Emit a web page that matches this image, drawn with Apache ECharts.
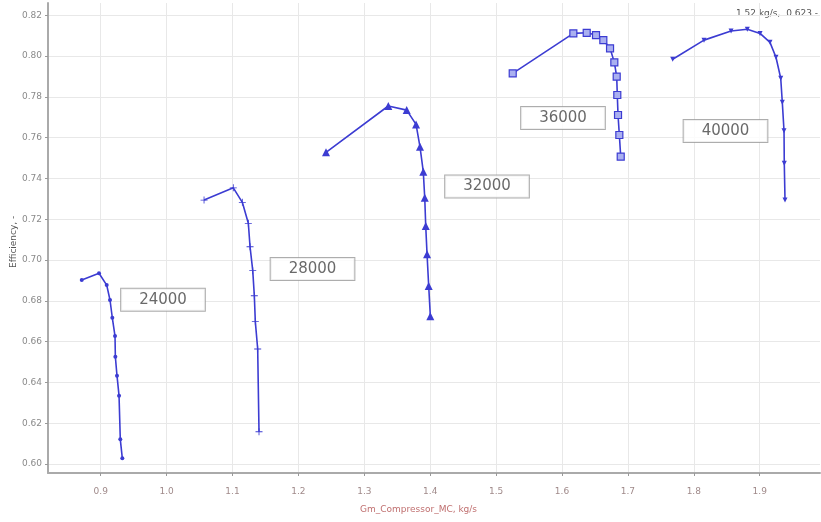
<!DOCTYPE html>
<html>
<head>
<meta charset="utf-8">
<script src="https://cdn.jsdelivr.net/npm/echarts@6/dist/echarts.min.js"></script>
<style>html,body{margin:0;padding:0;background:#fff;}#c{width:821px;height:522px;}</style>
</head>
<body>
<div id="c"></div>
<script>
// ---- data ----
const xTicks = [0.9, 1.0, 1.1, 1.2, 1.3, 1.4, 1.5, 1.6, 1.7, 1.8, 1.9];
const yTicks = [0.60, 0.62, 0.64, 0.66, 0.68, 0.70, 0.72, 0.74, 0.76, 0.78, 0.80, 0.82];

const speedNames = ['24000', '28000', '32000', '36000', '40000'];

const m24000 = [0.8712, 0.8974, 0.9091, 0.9141, 0.9176, 0.9217, 0.9222, 0.9247, 0.9278, 0.9297, 0.9328];
const e24000 = [0.6902, 0.6935, 0.6877, 0.6804, 0.6717, 0.6627, 0.6526, 0.6433, 0.6335, 0.6121, 0.6028];

const m28000 = [1.0568, 1.1012, 1.1149, 1.1240, 1.1266, 1.1307, 1.1331, 1.1346, 1.1382, 1.1402];
const e28000 = [0.7294, 0.7354, 0.7283, 0.7180, 0.7065, 0.6948, 0.6825, 0.6698, 0.6564, 0.6158];

const m32000 = [1.2419, 1.3364, 1.3643, 1.3785, 1.3845, 1.3895, 1.3917, 1.3932, 1.3952, 1.3977, 1.4002];
const e32000 = [0.7528, 0.7755, 0.7735, 0.7665, 0.7555, 0.7433, 0.7305, 0.7167, 0.7028, 0.6873, 0.6725];

const m36000 = [1.5252, 1.6172, 1.6375, 1.6516, 1.6627, 1.6729, 1.6794, 1.6830, 1.6839, 1.6850, 1.6870, 1.6891];
const e36000 = [0.7915, 0.8111, 0.8114, 0.8103, 0.8078, 0.8038, 0.7969, 0.7899, 0.7809, 0.7711, 0.7613, 0.7507];

const m40000 = [1.7680, 1.8155, 1.8565, 1.8812, 1.9005, 1.9156, 1.9247, 1.9319, 1.9343, 1.9369, 1.9373, 1.9384];
const e40000 = [0.7984, 0.8078, 0.8123, 0.8131, 0.8111, 0.8067, 0.7994, 0.7891, 0.7773, 0.7634, 0.7474, 0.7294];

// speed-line label anchors (data units)
const labelMass = [0.9945, 1.2214, 1.4862, 1.6015, 1.8481];
const labelEff  = [0.6805, 0.6956, 0.7360, 0.7696, 0.7632];

const readout = '1.52 kg/s,  0.623 -';
const xName = 'Gm_Compressor_MC, kg/s';
const yName = 'Efficiency, -';

// ---- chart ----
const zip = (a, b) => a.map((v, i) => [v, b[i]]);
const lineColor = '#3c3cd2';
const plus = 'path://M-0.6,-5 L0.6,-5 L0.6,5 L-0.6,5 Z M-5,-0.6 L5,-0.6 L5,0.6 L-5,0.6 Z';

const mk = (data, symbol, size, extra) => Object.assign({
  type: 'line', data: data, symbol: symbol, symbolSize: size, showSymbol: true,
  lineStyle: { color: lineColor, width: 1.6 },
  itemStyle: { color: lineColor },
  z: 3, animation: false
}, extra || {});

const chart = echarts.init(document.getElementById('c'), null, { renderer: 'canvas' });
chart.setOption({
  animation: false,
  backgroundColor: '#ffffff',
  grid: { left: 48, right: 1, top: 3, bottom: 49, containLabel: false },
  xAxis: {
    type: 'value', min: 0.82, max: 1.9915,
    axisLine: { show: true, lineStyle: { color: '#aaaaaa', width: 2 } },
    axisTick: { show: true, length: 3, customValues: xTicks, lineStyle: { color: '#999' } },
    axisLabel: { customValues: xTicks, color: '#a08a8a', fontSize: 9, fontFamily: 'DejaVu Sans', margin: 14,
      formatter: v => v.toFixed(1) },
    splitLine: { show: true, lineStyle: { color: '#e8e8e8', width: 1 } }
  },
  yAxis: {
    type: 'value', min: 0.5956, max: 0.8260,
    axisLine: { show: true, onZero: false, lineStyle: { color: '#aaaaaa', width: 2 } },
    axisTick: { show: true, length: 3, customValues: yTicks, lineStyle: { color: '#999' } },
    axisLabel: { customValues: yTicks, color: '#8a8a8a', fontSize: 9, fontFamily: 'DejaVu Sans', margin: 6,
      formatter: v => v.toFixed(2) },
    splitLine: { show: true, lineStyle: { color: '#e8e8e8', width: 1 } }
  },
  graphic: [
    { type: 'text', left: 420 - 60, top: 505, style: { text: xName, fill: '#c07070', font: '9px DejaVu Sans' } },
    { type: 'text', x: 9, y: 268, rotation: Math.PI / 2, style: { text: yName, fill: '#555', font: '9px DejaVu Sans' } },
    { type: 'text', right: 3, top: 9, style: { text: readout, fill: '#555', font: '9px DejaVu Sans' } }
  ],
  series: [
    mk(zip(m24000, e24000), 'circle', 4),
    mk(zip(m28000, e28000), plus, 7),
    mk(zip(m32000, e32000), 'triangle', 8),
    mk(zip(m36000, e36000), 'rect', 7, { itemStyle: { color: '#aab0f0', borderColor: lineColor, borderWidth: 1.2 } }),
    mk(zip(m40000, e40000), 'triangle', 5, { symbolRotate: 180 }),
    {
      type: 'scatter', symbolSize: 0, z: 5, animation: false,
      data: labelMass.map((v, i) => ({ value: [v, labelEff[i]], name: speedNames[i] })),
      label: {
        show: true, position: 'inside', formatter: p => p.name,
        fontFamily: 'DejaVu Sans', fontSize: 15, color: '#444',
        backgroundColor: '#ffffff', borderColor: '#999', borderWidth: 1,
        padding: [3, 18, 2, 18], lineHeight: 17
      }
    }
  ]
});
</script>
</body>
</html>
